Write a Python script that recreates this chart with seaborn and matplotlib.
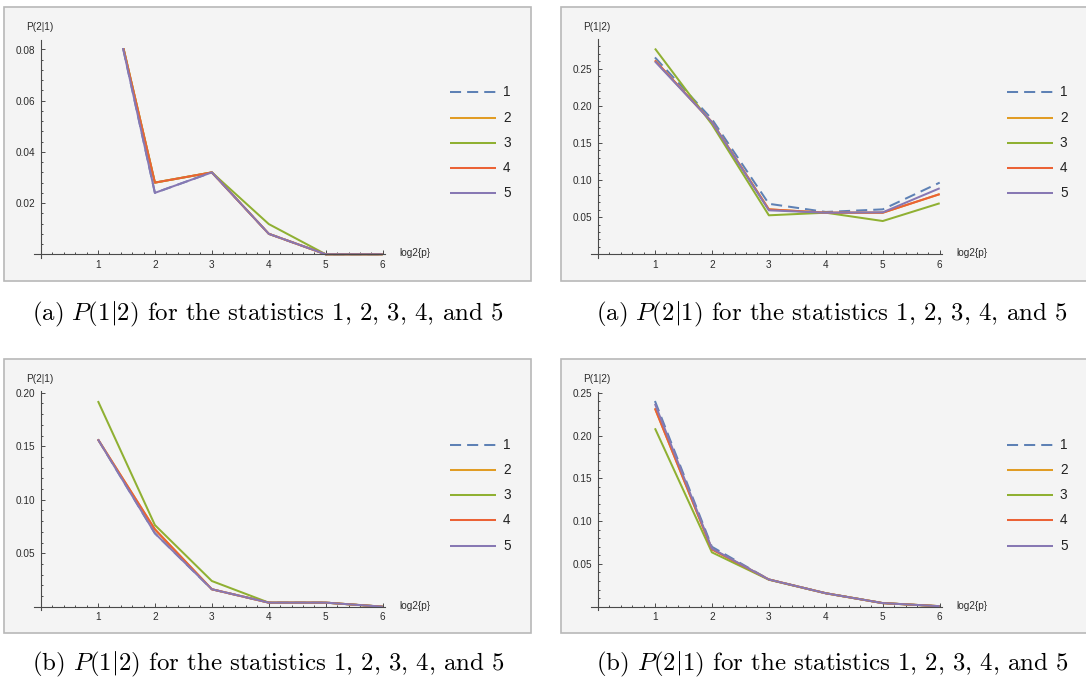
import matplotlib
matplotlib.use("Agg")
import matplotlib.pyplot as plt
from matplotlib.patches import Rectangle
from matplotlib.lines import Line2D
from matplotlib.ticker import MultipleLocator, FixedLocator
import pandas as pd
import seaborn as sns

sns.set_theme(style="white")
plt.rcParams["font.family"] = ["Liberation Sans", "DejaVu Sans"]
plt.rcParams["mathtext.fontset"] = "cm"

# ---------------------------------------------------------------- data
log2p = [1, 2, 3, 4, 5, 6]
stat_names = ["1", "2", "3", "4", "5"]
stat_colors = ["#5E81B5", "#E19C24", "#8FB032", "#EB6235", "#8778B3"]

# (a) left: P(2|1)
a_left_s1 = [0.125, 0.024, 0.032, 0.008, 0.0, 0.0]
a_left_s2 = [0.123, 0.028, 0.032, 0.008, 0.0, 0.0]
a_left_s3 = [0.123, 0.028, 0.032, 0.0118, 0.0, 0.0]
a_left_s4 = [0.123, 0.028, 0.032, 0.008, 0.0, 0.0]
a_left_s5 = [0.125, 0.024, 0.032, 0.008, 0.0, 0.0]

# (a) right: P(1|2)
a_right_s1 = [0.265, 0.182, 0.068, 0.057, 0.0605, 0.0965]
a_right_s2 = [0.261, 0.178, 0.0605, 0.056, 0.056, 0.081]
a_right_s3 = [0.277, 0.175, 0.0525, 0.056, 0.0448, 0.0687]
a_right_s4 = [0.261, 0.178, 0.0605, 0.056, 0.056, 0.081]
a_right_s5 = [0.2597, 0.178, 0.0592, 0.056, 0.0565, 0.0889]

# (b) left: P(2|1)
b_left_s1 = [0.1564, 0.0686, 0.0163, 0.0038, 0.0038, 0.0]
b_left_s2 = [0.1564, 0.0723, 0.0163, 0.0038, 0.0038, 0.0]
b_left_s3 = [0.1922, 0.0763, 0.024, 0.0038, 0.0038, 0.0]
b_left_s4 = [0.1564, 0.0723, 0.0163, 0.0038, 0.0038, 0.0]
b_left_s5 = [0.1564, 0.0686, 0.0163, 0.0038, 0.0038, 0.0]

# (b) right: P(1|2)
b_right_s1 = [0.2403, 0.070, 0.0318, 0.0157, 0.0042, 0.0006]
b_right_s2 = [0.2317, 0.067, 0.0318, 0.0157, 0.0042, 0.0006]
b_right_s3 = [0.2084, 0.0635, 0.0315, 0.0157, 0.0042, 0.0006]
b_right_s4 = [0.2317, 0.067, 0.0318, 0.0157, 0.0042, 0.0006]
b_right_s5 = [0.2370, 0.068, 0.0318, 0.0157, 0.0042, 0.0006]

x_ticks = [1, 2, 3, 4, 5, 6]
a_left_yticks = [0.02, 0.04, 0.06, 0.08]
a_right_yticks = [0.05, 0.10, 0.15, 0.20, 0.25]
b_left_yticks = [0.05, 0.10, 0.15, 0.20]
b_right_yticks = [0.05, 0.10, 0.15, 0.20, 0.25]

captions = [
    r"(a) $P(1|2)$ for the statistics 1, 2, 3, 4, and 5",
    r"(a) $P(2|1)$ for the statistics 1, 2, 3, 4, and 5",
    r"(b) $P(1|2)$ for the statistics 1, 2, 3, 4, and 5",
    r"(b) $P(2|1)$ for the statistics 1, 2, 3, 4, and 5",
]

# ---------------------------------------------------------------- figure
W, H = 1086, 679
fig = plt.figure(figsize=(W / 100, H / 100), dpi=100)
fig.patch.set_facecolor("white")

AX_COL = "#4a4a4a"
TXT_COL = "#2b2b2b"
FS_TICK = 7.2


def fx(x):
    return x / W


def fy(y):
    return 1 - y / H


def long_frame(series):
    rows = []
    for name, vals in zip(stat_names, series):
        for xv, yv in zip(log2p, vals):
            rows.append({"log2p": xv, "P": yv, "stat": name})
    return pd.DataFrame(rows)


def panel(series, yticks, yminor, ylabel, dx, dy, yunit, ytop, clip_top=None):
    # background card
    fig.add_artist(Rectangle((fx(4 + dx), fy(281 + dy)), 527 / W, 274 / H,
                             transform=fig.transFigure, facecolor="#F4F4F4",
                             edgecolor="#B8B8B8", linewidth=1.2, zorder=-5))

    x0, y0, xunit = 41 + dx, 254.3 + dy, 56.95
    xlim = (-7 / xunit, 6 + 2.5 / xunit)
    ylim = (-3.5 / yunit, ytop)
    left = x0 + xlim[0] * xunit
    right = x0 + xlim[1] * xunit
    top = y0 - ylim[1] * yunit
    bottom = y0 - ylim[0] * yunit
    ax = fig.add_axes([fx(left), fy(bottom), (right - left) / W, (bottom - top) / H])
    ax.set_facecolor("none")

    df = long_frame(series)
    sns.lineplot(data=df, x="log2p", y="P", hue="stat", style="stat",
                 hue_order=stat_names, style_order=stat_names,
                 palette=stat_colors,
                 dashes={"1": (5.5, 3.0), "2": "", "3": "", "4": "", "5": ""},
                 linewidth=1.45, estimator=None, sort=False, legend=False, ax=ax)
    for ln in ax.get_lines():
        ln.set_solid_capstyle("butt")
        if clip_top is not None:
            ln.set_clip_path(Rectangle((-1, -1), 10, 1 + clip_top,
                                       transform=ax.transData))

    ax.set_xlim(*xlim)
    ax.set_ylim(*ylim)
    ax.set_xlabel("")
    ax.set_ylabel("")
    for side in ("top", "right"):
        ax.spines[side].set_visible(False)
    ax.spines["left"].set_position(("data", 0))
    ax.spines["bottom"].set_position(("data", 0))
    for side in ("left", "bottom"):
        ax.spines[side].set_color(AX_COL)
        ax.spines[side].set_linewidth(0.8)

    ax.xaxis.set_major_locator(FixedLocator(x_ticks))
    ax.xaxis.set_minor_locator(MultipleLocator(0.2))
    ax.yaxis.set_major_locator(FixedLocator(yticks))
    ax.yaxis.set_minor_locator(MultipleLocator(yminor))
    ax.set_xticklabels([str(t) for t in x_ticks])
    ax.set_yticklabels([f"{t:.2f}" for t in yticks])
    ax.tick_params(which="both", bottom=True, left=True, top=False, right=False,
                   direction="in", color=AX_COL, width=0.7,
                   labelsize=FS_TICK, labelcolor=TXT_COL)
    ax.tick_params(which="major", length=3.0)
    ax.tick_params(which="minor", length=1.6)
    ax.tick_params(axis="x", which="major", pad=4.0)
    ax.tick_params(axis="y", which="major", pad=4.2)
    ax.grid(False)

    # axis labels in the Mathematica style
    fig.text(fx(26 + dx), fy(26.7 + dy), ylabel, fontsize=FS_TICK, color=TXT_COL,
             ha="left", va="center")
    fig.text(fx(399 + dx), fy(253.5 + dy), "log2{p}", fontsize=FS_TICK, color=TXT_COL,
             ha="left", va="center")

    # legend: line swatch and label per statistic
    for i, (name, col) in enumerate(zip(stat_names, stat_colors)):
        yy = fy(92.3 + 25.25 * i + dy)
        ls = (0, (5.5, 3.0)) if i == 0 else "-"
        fig.add_artist(Line2D([fx(450 + dx), fx(496 + dx)], [yy, yy], color=col,
                              linewidth=1.45, linestyle=ls, solid_capstyle="butt",
                              transform=fig.transFigure))
        fig.text(fx(503 + dx), yy, name, fontsize=9.8, color="#222222",
                 ha="left", va="center")
    return ax


panel([a_left_s1, a_left_s2, a_left_s3, a_left_s4, a_left_s5],
      a_left_yticks, 0.004, "P(2|1)", 0, 0, 2560.0, 0.0838, clip_top=0.0805)
panel([a_right_s1, a_right_s2, a_right_s3, a_right_s4, a_right_s5],
      a_right_yticks, 0.01, "P(1|2)", 557, 0, 742.8, 0.2896)
panel([b_left_s1, b_left_s2, b_left_s3, b_left_s4, b_left_s5],
      b_left_yticks, 0.01, "P(2|1)", 0, 352.4, 1070.0, 0.2012)
panel([b_right_s1, b_right_s2, b_right_s3, b_right_s4, b_right_s5],
      b_right_yticks, 0.01, "P(1|2)", 557, 352.4, 856.0, 0.2512)

# sub-figure captions
cap_pos = [(268, 314), (832, 314), (268, 664), (832, 664)]
for (cx, cy), txt in zip(cap_pos, captions):
    fig.text(fx(cx), fy(cy), txt, fontsize=17.9, family="cmr10", color="black",
             ha="center", va="center")

fig.savefig("out.png", dpi=100, facecolor="white")
